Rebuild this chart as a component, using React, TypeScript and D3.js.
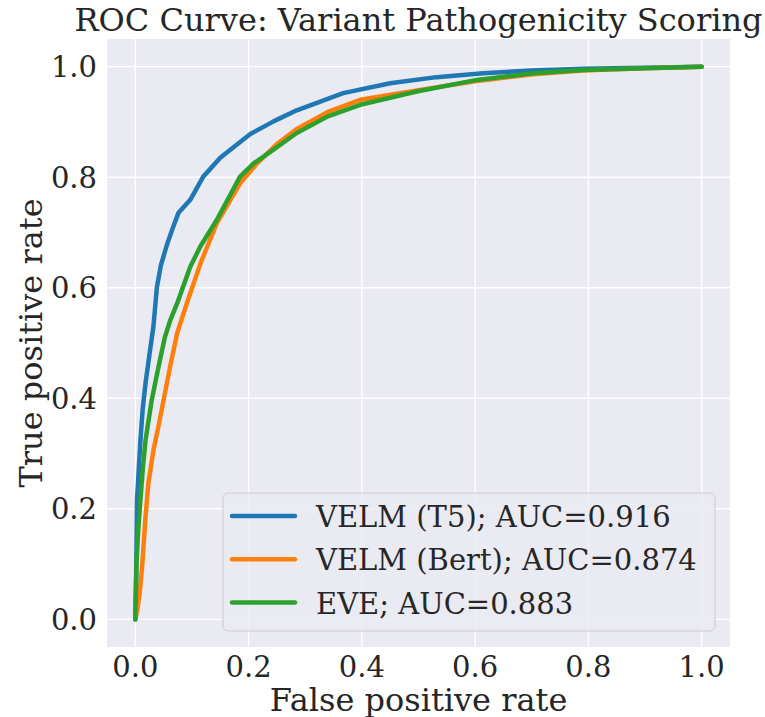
import React from 'react';
import * as d3 from 'd3';

// ROC points (fpr, tpr)
const t5Fpr = [0, 0.001, 0.002, 0.003, 0.006, 0.009, 0.013, 0.018, 0.026, 0.032, 0.038, 0.045, 0.055, 0.065, 0.076, 0.097, 0.12, 0.15, 0.203, 0.244, 0.285, 0.367, 0.45, 0.532, 0.614, 0.7, 0.791, 0.9, 1.0];
const t5Tpr = [0, 0.05, 0.12, 0.216, 0.27, 0.324, 0.38, 0.427, 0.487, 0.53, 0.6, 0.64, 0.675, 0.705, 0.735, 0.759, 0.801, 0.835, 0.878, 0.901, 0.921, 0.952, 0.97, 0.981, 0.988, 0.993, 0.996, 0.998, 1.0];

const bertFpr = [0, 0.002, 0.004, 0.008, 0.012, 0.018, 0.023, 0.032, 0.041, 0.05, 0.062, 0.074, 0.091, 0.115, 0.144, 0.185, 0.215, 0.25, 0.285, 0.34, 0.397, 0.497, 0.603, 0.702, 0.79, 0.9, 1.0];
const bertTpr = [0, 0.01, 0.02, 0.05, 0.095, 0.185, 0.246, 0.306, 0.35, 0.397, 0.46, 0.518, 0.572, 0.644, 0.717, 0.789, 0.825, 0.86, 0.887, 0.918, 0.94, 0.957, 0.974, 0.986, 0.993, 0.997, 1.0];

const eveFpr = [0, 0.001, 0.002, 0.005, 0.009, 0.013, 0.018, 0.029, 0.041, 0.052, 0.062, 0.074, 0.097, 0.115, 0.144, 0.185, 0.209, 0.244, 0.285, 0.34, 0.397, 0.497, 0.603, 0.702, 0.79, 0.9, 1.0];
const eveTpr = [0, 0.05, 0.1, 0.16, 0.216, 0.27, 0.324, 0.397, 0.457, 0.51, 0.542, 0.572, 0.638, 0.675, 0.723, 0.801, 0.825, 0.85, 0.88, 0.91, 0.931, 0.955, 0.976, 0.988, 0.994, 0.997, 1.0];

const seriesNames = ['VELM (T5); AUC=0.916', 'VELM (Bert); AUC=0.874', 'EVE; AUC=0.883'];
const seriesColors = ['#1f77b4', '#ff7f0e', '#2ca02c'];
const tickValues = [0, 0.2, 0.4, 0.6, 0.8, 1.0];

const font = 'DejaVu Serif';

export default function App() {
  const left = 107, right = 730, top = 39, bottom = 647;
  const x = d3.scaleLinear().domain([-0.05, 1.05]).range([left, right]);
  const y = d3.scaleLinear().domain([-0.05, 1.05]).range([bottom, top]);

  const series = [
    t5Fpr.map((f, i) => [f, t5Tpr[i]]),
    bertFpr.map((f, i) => [f, bertTpr[i]]),
    eveFpr.map((f, i) => [f, eveTpr[i]]),
  ];
  const line = d3.line<number[]>().x(d => x(d[0])).y(d => y(d[1]));

  const legX = 223, legY = 493;

  return (
    <svg width={765} height={717} style={{ position: 'absolute', left: 0, top: 0, background: '#fff' }}>
      <rect x={left} y={top} width={right - left} height={bottom - top} fill="#EAEAF2" />
      {tickValues.map(t => (
        <g key={'g' + t}>
          <line x1={x(t)} x2={x(t)} y1={top} y2={bottom} stroke="#fff" strokeWidth={1.4} />
          <line x1={left} x2={right} y1={y(t)} y2={y(t)} stroke="#fff" strokeWidth={1.4} />
        </g>
      ))}
      {series.map((s, i) => (
        <path key={i} d={line(s) || ''} fill="none" stroke={seriesColors[i]} strokeWidth={4.5}
          strokeLinecap="round" strokeLinejoin="round" />
      ))}
      {tickValues.map(t => (
        <text key={'xt' + t} x={x(t)} y={677} textAnchor="middle" fontFamily={font} fontSize={29} fill="#262626">
          {d3.format('.1f')(t)}
        </text>
      ))}
      {tickValues.map(t => (
        <text key={'yt' + t} x={97} y={y(t)} dy="0.36em" textAnchor="end" fontFamily={font} fontSize={29} fill="#262626">
          {d3.format('.1f')(t)}
        </text>
      ))}
      <text x={(left + right) / 2} y={711} textAnchor="middle" fontFamily={font} fontSize={32} fill="#262626">
        False positive rate
      </text>
      <text transform={`translate(42,${(top + bottom) / 2}) rotate(-90)`} textAnchor="middle" fontFamily={font} fontSize={32} fill="#262626">
        True positive rate
      </text>
      <text x={(left + right) / 2} y={31} textAnchor="middle" fontFamily={font} fontSize={32} fill="#262626">
        ROC Curve: Variant Pathogenicity Scoring
      </text>
      <rect x={legX} y={legY} width={715 - legX} height={631 - legY} rx={5} fill="#EAEAF2" fillOpacity={0.8} stroke="#cccccc" strokeWidth={1} />
      {seriesNames.map((n, i) => (
        <g key={n}>
          <line x1={232} x2={295} y1={516 + i * 43.3} y2={516 + i * 43.3} stroke={seriesColors[i]} strokeWidth={4.5} strokeLinecap="round" />
          <text x={316} y={527 + i * 43.3} fontFamily={font} fontSize={29} fill="#262626">{n}</text>
        </g>
      ))}
    </svg>
  );
}
